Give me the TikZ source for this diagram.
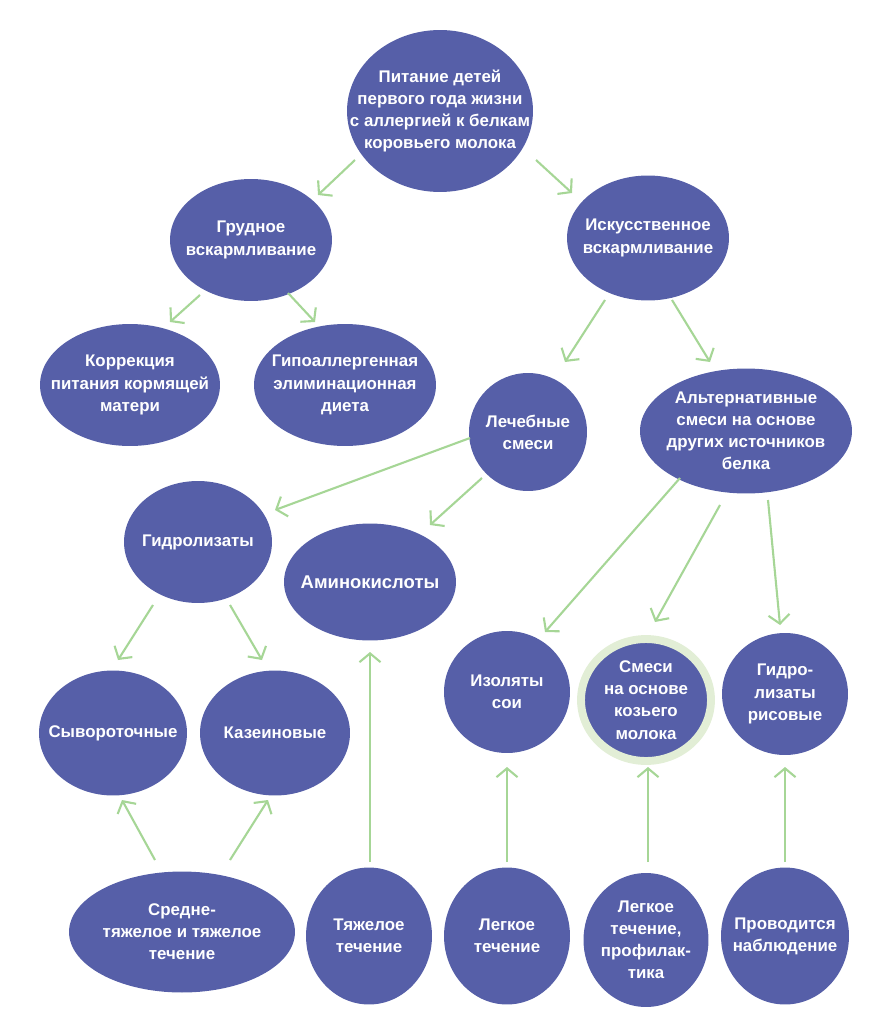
\documentclass[tikz,border=0pt]{standalone}
\usepackage{fontspec}
\setmainfont{Liberation Sans}
\usetikzlibrary{arrows.meta,shapes.geometric}
\definecolor{nodeblue}{RGB}{86,95,168}
\definecolor{arrgreen}{RGB}{166,214,150}
\definecolor{ringgreen}{RGB}{226,238,214}
\tikzset{
  bub/.style={ellipse, fill=nodeblue, draw=none, inner sep=0pt},
  lab/.style={align=center, text=white, inner sep=0pt,
    font=\bfseries\fontsize{9.6}{12.6}\selectfont},
  biglab/.style={lab, font=\bfseries\fontsize{10.5}{13}\selectfont},
  arr/.style={draw=arrgreen, line width=1.2pt,
    -{Straight Barb[length=5pt,width=12pt,line width=1.2pt]}},
}
\begin{document}
\begin{tikzpicture}[x=0.02cm,y=-0.02cm]
\useasboundingbox (0,0) rectangle (873,1024);
% nodes
\node[bub, minimum width=3.72cm, minimum height=3.24cm, label={[lab]center:Питание детей\\первого года жизни\\с аллергией к белкам\\коровьего молока}] (top) at (440,111) {};
\node[bub, minimum width=3.24cm, minimum height=2.44cm, label={[lab]center:Грудное\\вскармливание}] (grud) at (251,240) {};
\node[bub, minimum width=3.24cm, minimum height=2.5cm, label={[lab]center:Искусственное\\вскармливание}] (isk) at (648,238) {};
\node[bub, minimum width=3.6cm, minimum height=2.44cm, label={[lab]center:Коррекция\\питания кормящей\\матери}] (korr) at (130,385) {};
\node[bub, minimum width=3.64cm, minimum height=2.44cm, label={[lab]center:Гипоаллергенная\\элиминационная\\диета}] (gipo) at (345,385) {};
\node[bub, minimum width=2.36cm, minimum height=2.36cm, label={[lab]center:Лечебные\\смеси}] (lech) at (528,432) {};
\node[bub, minimum width=4.24cm, minimum height=2.5cm, label={[lab]center:Альтернативные\\смеси на основе\\других источников\\белка}] (alt) at (746,431) {};
\node[bub, minimum width=2.96cm, minimum height=2.44cm, label={[lab]center:Гидролизаты}] (gidr) at (198,542) {};
\node[bub, minimum width=3.44cm, minimum height=2.34cm, label={[biglab]center:Аминокислоты}] (amino) at (370,582) {};
\node[bub, minimum width=2.52cm, minimum height=2.44cm, label={[lab]center:Изоляты\\сои}] (soy) at (507,692) {};
\node[bub, minimum width=2.6cm, minimum height=2.44cm, draw=ringgreen, line width=4.5pt, label={[lab]center:Смеси\\на основе\\козьего\\молока}] (goat) at (646,700) {};
\node[bub, minimum width=2.52cm, minimum height=2.44cm, label={[lab]center:Гидро-\\лизаты\\рисовые}] (rice) at (785,694) {};
\node[bub, minimum width=2.96cm, minimum height=2.5cm, label={[lab]center:Сывороточные}] (syv) at (113,733) {};
\node[bub, minimum width=3.0cm, minimum height=2.5cm, label={[lab]center:Казеиновые}] (kaz) at (275,733) {};
\node[bub, minimum width=4.52cm, minimum height=2.42cm, label={[lab]center:Средне-\\тяжелое и тяжелое\\течение}] (sred) at (182,932) {};
\node[bub, minimum width=2.52cm, minimum height=2.74cm, label={[lab]center:Тяжелое\\течение}] (tyazh) at (369,936) {};
\node[bub, minimum width=2.52cm, minimum height=2.74cm, label={[lab]center:Легкое\\течение}] (legk) at (507,936) {};
\node[bub, minimum width=2.5cm, minimum height=2.68cm, label={[lab]center:Легкое\\течение,\\профилак-\\тика}] (legkp) at (646,940) {};
\node[bub, minimum width=2.56cm, minimum height=2.74cm, label={[lab]center:Проводится\\наблюдение}] (nabl) at (785,936) {};
% arrow end points
\coordinate (a1s) at (355,160); \coordinate (a1e) at (318,195);
\coordinate (a2s) at (536,160); \coordinate (a2e) at (572,193);
\coordinate (a3s) at (200,295); \coordinate (a3e) at (170,322);
\coordinate (a4s) at (288,293); \coordinate (a4e) at (315,322);
\coordinate (a5s) at (605,300); \coordinate (a5e) at (565,362);
\coordinate (a6s) at (672,300); \coordinate (a6e) at (710,362);
\coordinate (a7s) at (470,438); \coordinate (a7e) at (275,510);
\coordinate (a8s) at (482,478); \coordinate (a8e) at (430,525);
\coordinate (a9s) at (680,478); \coordinate (a9e) at (545,632);
\coordinate (a10s) at (720,505); \coordinate (a10e) at (655,622);
\coordinate (a11s) at (768,500); \coordinate (a11e) at (780,625);
\coordinate (a12s) at (153,605); \coordinate (a12e) at (118,660);
\coordinate (a13s) at (230,605); \coordinate (a13e) at (262,660);
\coordinate (a14s) at (155,860); \coordinate (a14e) at (122,800);
\coordinate (a15s) at (230,860); \coordinate (a15e) at (268,800);
\coordinate (a16s) at (370,862); \coordinate (a16e) at (370,652);
\coordinate (a17s) at (507,862); \coordinate (a17e) at (507,767);
\coordinate (a18s) at (648,862); \coordinate (a18e) at (648,767);
\coordinate (a19s) at (785,862); \coordinate (a19e) at (785,767);
\foreach \i in {1,...,19} { \draw[arr] (a\i s) -- (a\i e); }
\end{tikzpicture}
\end{document}
